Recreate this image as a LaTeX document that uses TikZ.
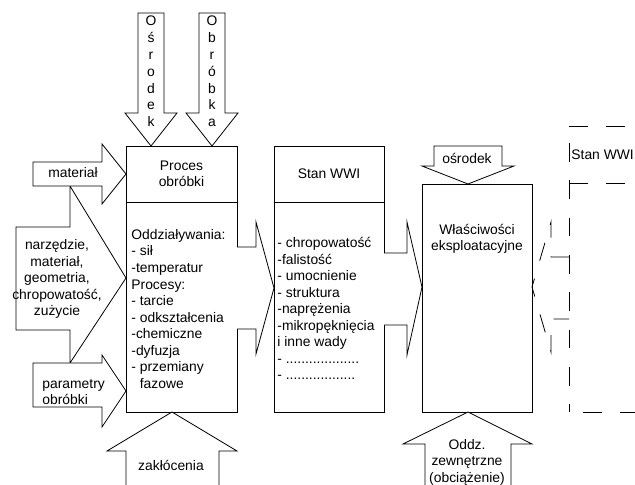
\documentclass[tikz,border=0pt]{standalone}
\usepackage{fontspec}
\setmainfont{Liberation Sans}
\usetikzlibrary{positioning}

\begin{document}
\begin{tikzpicture}[x=0.75pt, y=-0.75pt, line width=0.6pt,
  every node/.style={font=\fontsize{10.4}{12.4}\selectfont, inner sep=0pt},
  box/.style={draw, outer sep=0pt},
  dashline/.style={draw, dash pattern=on 14pt off 14pt},
  blockarrow/.style={draw, fill=white, line join=miter},
  letters/.style={align=center, font=\fontsize{10.4}{12.6}\selectfont}]
\useasboundingbox (0,0) rectangle (635,485);
\clip (0,0) rectangle (635,485);
\fill[white] (0,0) rectangle (635,485);

% wejscia z lewej strony
\draw[blockarrow] (16,227) -- (70,227) -- (70,186) -- (126,278) -- (70,363) -- (70,330) -- (16,330) -- cycle;
\draw[blockarrow] (33,162) -- (102,162) -- (102,144) -- (126,174) -- (102,204) -- (102,186) -- (33,186) -- cycle;
\draw[blockarrow] (33,363) -- (102,363) -- (102,355) -- (126,391) -- (102,427) -- (102,407) -- (33,407) -- cycle;
\node (mat) at (73,173) {materiał};
\node[align=center] (narz) at (57,279) {narzędzie,\\materiał,\\geometria,\\chropowatość,\\zużycie};
\node[align=left, anchor=west] (param) at (42,392) {parametry\\obróbki};

% wejscia z gory
\draw[blockarrow] (138,13) -- (164,13) -- (164,113) -- (177,113) -- (151,146) -- (125,113) -- (138,113) -- cycle;
\draw[blockarrow] (199,13) -- (225,13) -- (225,113) -- (238,113) -- (212,146) -- (186,113) -- (199,113) -- cycle;
\node[letters] (osr) at (151,71.5) {O\\ś\\r\\o\\d\\e\\k};
\node[letters] (obr) at (212,71.5) {O\\b\\r\\ó\\b\\k\\a};

% proces obrobki
\node[box, minimum width=83.25pt, minimum height=42pt, align=center] (proc) at (181.5,174) {Proces\\obróbki};
\node[box, minimum width=83.25pt, minimum height=157.5pt, below=0pt of proc] (procbody) {};
\node[anchor=north west, align=left] (procitems) at (131,229) {Oddziaływania:\\- sił\\-temperatur\\Procesy:\\- tarcie\\- odkształcenia\\-chemiczne\\-dyfuzja\\- przemiany\\\hphantom{- }fazowe};

% zaklocenia
\draw[blockarrow] (126,492) -- (126,451) -- (107,451) -- (172,412) -- (237,451) -- (219,451) -- (219,492);
\node (zakl) at (171,465) {zakłócenia};

% stan WWI
\draw[blockarrow] (237,247) -- (256,247) -- (256,222) -- (274,288) -- (256,354) -- (256,329) -- (237,329);
\node[box, minimum width=82.5pt, minimum height=42pt] (stan) at (329,174) {Stan WWI};
\node[box, minimum width=82.5pt, minimum height=157.5pt, below=0pt of stan] (stanbody) {};
\node[anchor=north west, align=left] (stanitems) at (277,237) {- chropowatość\\-falistość\\- umocnienie\\- struktura\\-naprężenia\\-mikropęknięcia\\i inne wady\\- ...................\\- ..................};

% wlasciwosci eksploatacyjne
\draw[blockarrow] (384,253) -- (407,253) -- (407,222) -- (422,287) -- (407,355) -- (407,325) -- (384,325);
\node[box, minimum width=82.5pt, minimum height=171pt] (wl) at (477,298) {};
\node[align=center] (wlasc) at (477,239) {Właściwości\\eksploatacyjne};
\draw[blockarrow] (434,146) -- (502,146) -- (502,166) -- (514,166) -- (468,184) -- (422,166) -- (434,166) -- cycle;
\node (osr2) at (467,158) {ośrodek};
\draw[blockarrow] (425,492) -- (425,444) -- (403,444) -- (468,412) -- (532,444) -- (511,444) -- (511,492);
\node[align=center] (oddz) at (467,462) {Oddz.\\zewnętrzne\\(obciążenie)};

% kolejny stan WWI (linia przerywana)
\draw[dashline] (569,257) -- (551,257) -- (551,222) -- (532,287) -- (551,352) -- (551,319) -- (569,319);
\draw[dashline] (569,126) -- (635,126);
\draw[dashline] (569,183) -- (635,183);
\draw[dashline, black] (583,412) -- (635,412);
\draw[dashline, black] (569,143) -- (569,412);
\node[anchor=west] (stan2lbl) at (571,155) {Stan WWI};
\end{tikzpicture}
\end{document}
